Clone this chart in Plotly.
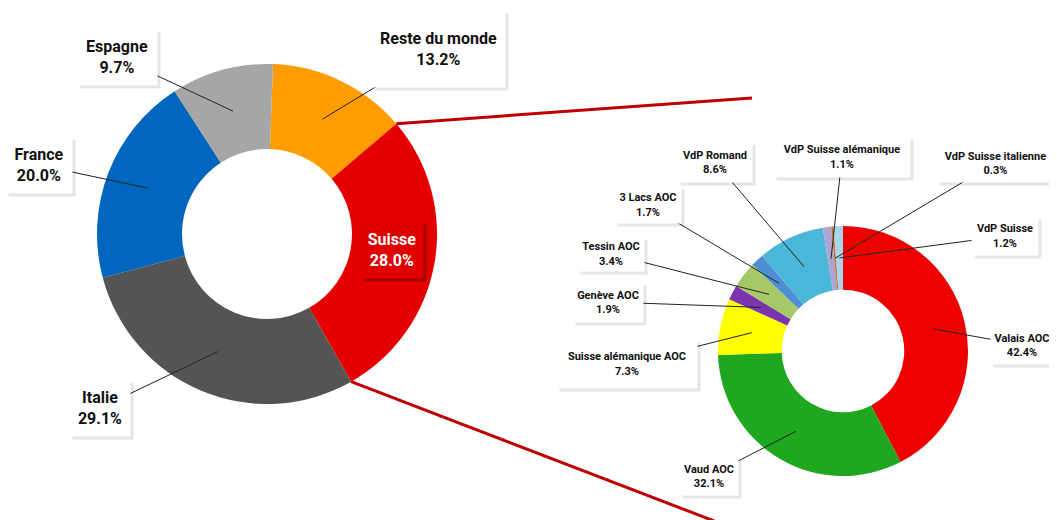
import math
import plotly.graph_objects as go

W, H = 1057, 520
OFF = 8  # page body margin
FW, FH = W - OFF, H - OFF

# --- data ---
PAYS = ["Reste du monde", "Suisse", "Italie", "France", "Espagne"]
PAYS_PCT = [13.2, 28.0, 29.1, 20.0, 9.7]
PAYS_COULEURS = ["#FF9C00", "#E50000", "#545454", "#0066BE", "#A6A6A6"]

REGIONS = ["Valais AOC", "Vaud AOC", "Suisse alémanique AOC", "Genève AOC", "Tessin AOC",
           "3 Lacs AOC", "VdP Romand", "VdP Suisse alémanique", "VdP Suisse italienne", "VdP Suisse"]
REGIONS_PCT = [42.4, 32.1, 7.3, 1.9, 3.4, 1.7, 8.6, 1.1, 0.3, 1.2]
REGIONS_COULEURS = ["#EE0000", "#1FA81F", "#FFFF00", "#7B35AE", "#A6C866",
                    "#4F8ED2", "#4BB6D8", "#AFA3D2", "#C8702A", "#A6D6EA"]

# --- layout (pixels in the window) ---
LEFT = dict(cx=267, cy=234, r=170, hole=0.5, rot=2)
RIGHT = dict(cx=843, cy=351, r=125, hole=0.49, rot=0)

# label boxes: centre x, centre y, width, height
PAYS_BOX = {"Reste du monde": (438, 49, 133, 76), "Suisse": (392, 250, 62, 56), "Italie": (100, 408, 60, 56),
            "France": (39, 165, 66, 56), "Espagne": (117, 57, 80, 56)}
REGIONS_BOX = {
    "Valais AOC": (1022, 345, 62, 37), "Vaud AOC": (709, 476, 58, 37),
    "Suisse alémanique AOC": (627, 364, 140, 48), "Genève AOC": (608, 302, 70, 39),
    "Tessin AOC": (611, 254, 66, 34), "3 Lacs AOC": (648, 205, 66, 36),
    "VdP Romand": (715, 162, 74, 39), "VdP Suisse alémanique": (842, 157, 136, 40),
    "VdP Suisse italienne": (995, 163, 115, 37), "VdP Suisse": (1005, 236, 66, 38),
}

FONT = "Roboto"


def px(x):
    return (x - OFF) / FW


def py(y):
    return 1 - (y - OFF) / FH


def domain(g):
    return dict(x=[px(g["cx"] - g["r"]), px(g["cx"] + g["r"])],
                y=[py(g["cy"] + g["r"]), py(g["cy"] - g["r"])])


def pt(g, frac, rad):
    a = math.radians(g["rot"] + frac * 360)
    return g["cx"] + rad * math.sin(a), g["cy"] - rad * math.cos(a)


def mids(vals):
    tot, acc, out = sum(vals), 0, []
    for v in vals:
        out.append((acc + v / 2) / tot)
        acc += v
    return out


fig = go.Figure()
fig.add_trace(go.Pie(labels=PAYS, values=PAYS_PCT, hole=LEFT["hole"], sort=False, direction="clockwise",
                     rotation=LEFT["rot"], marker=dict(colors=PAYS_COULEURS, line=dict(width=0)),
                     textinfo="none", domain=domain(LEFT), showlegend=False))
fig.add_trace(go.Pie(labels=REGIONS, values=REGIONS_PCT, hole=RIGHT["hole"], sort=False, direction="clockwise",
                     rotation=RIGHT["rot"], marker=dict(colors=REGIONS_COULEURS, line=dict(width=0)),
                     textinfo="none", domain=domain(RIGHT), showlegend=False))

annotations = []
shapes = []


def add_box(box, txt, size, color, bg, shadow):
    x, y, w, h = box
    common = dict(xref="paper", yref="paper", showarrow=False, xanchor="center", yanchor="middle",
                  borderpad=0, width=w, height=h, font=dict(family=FONT, size=size, color=color))
    annotations.append(dict(x=px(x + 3), y=py(y + 3), text=" ", bgcolor=shadow, **common))
    annotations.append(dict(x=px(x), y=py(y), text=txt, bgcolor=bg, **common))


def add_label(g, name, pct, frac, box, size):
    hx, hy = pt(g, frac, g["r"] * (1 + g["hole"]) / 2)
    shapes.append(dict(type="line", xref="paper", yref="paper", x0=px(hx), y0=py(hy),
                       x1=px(box[0]), y1=py(box[1]), line=dict(color="#222222", width=1)))
    add_box(box, f"<b>{name}</b><br><b>{pct:.1f}%</b>", size, "#111111", "white", "rgba(0,0,0,0.10)")


for name, pct, m in zip(PAYS, PAYS_PCT, mids(PAYS_PCT)):
    if name == "Suisse":
        add_box(PAYS_BOX[name], f"<b>{name}</b><br><b>{pct:.1f}%</b>", 16, "white", "#E00000",
                "rgba(130,0,0,0.6)")
    else:
        add_label(LEFT, name, pct, m, PAYS_BOX[name], 16)

for name, pct, m in zip(REGIONS, REGIONS_PCT, mids(REGIONS_PCT)):
    add_label(RIGHT, name, pct, m, REGIONS_BOX[name], 11)

# connector lines from the Suisse slice to the detail donut
tot = sum(PAYS_PCT)
i = PAYS.index("Suisse")
x0, y0 = pt(LEFT, sum(PAYS_PCT[:i]) / tot, LEFT["r"])
x1, y1 = pt(LEFT, sum(PAYS_PCT[:i + 1]) / tot, LEFT["r"])
shapes += [
    dict(type="line", xref="paper", yref="paper", x0=px(x0), y0=py(y0), x1=px(752), y1=py(98),
         line=dict(color="#C00000", width=3), layer="below"),
    dict(type="line", xref="paper", yref="paper", x0=px(x1), y0=py(y1), x1=px(722), y1=py(524),
         line=dict(color="#C00000", width=3), layer="below"),
]

fig.update_layout(width=FW, height=FH, margin=dict(l=0, r=0, t=0, b=0), paper_bgcolor="white",
                  plot_bgcolor="white", annotations=annotations, shapes=shapes)
fig.write_html("out.html")
